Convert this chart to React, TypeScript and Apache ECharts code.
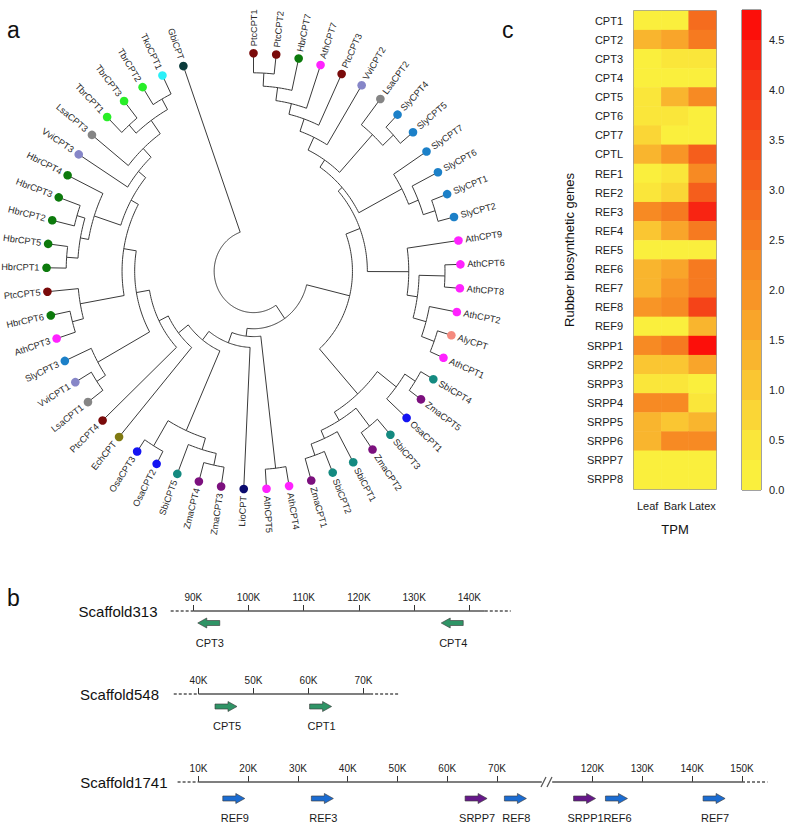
import React, { useEffect, useRef } from "react";
import * as echarts from "echarts";

const FONT = "'Liberation Sans', Arial, Helvetica, sans-serif";

// ---------------- panel a : tree (Newick, internal labels = node radius as fraction of tip radius)
const N_PP = "(PtcCPT1,PtcCPT2):0.91";
const N_V2 = `((((${N_PP},HbrCPT7):0.85,AthCPT7):0.79,PtcCPT3):0.74,VviCPT2):0.68`;
const TOP = `((${N_V2},(LsaCPT2,(SlyCPT4,SlyCPT5):0.92):0.85):0.615,(SlyCPT7,(SlyCPT6,(SlyCPT1,SlyCPT2):0.92):0.86):0.81):0.575`;
const ATH = "(AthCPT9,((AthCPT6,AthCPT8):0.925,(AthCPT2,(AlyCPT,AthCPT1):0.93):0.865):0.8):0.75";
const MONO = "(((SbiCPT4,ZmaCPT5):0.93,OsaCPT1):0.87,((SbiCPT3,ZmaCPT2):0.905,(SbiCPT1,(SbiCPT2,ZmaCPT1):0.895):0.84):0.8):0.755";
const CL_X = `((${TOP},${ATH}):0.55,${MONO}):0.478`;
const M2 = "(((ZmaCPT3,ZmaCPT4):0.91,SbiCPT5):0.855,(OsaCPT2,OsaCPT3):0.935):0.8";
const G1 = "((LsaCPT1,VviCPT1):0.91,SlyCPT3):0.86";
const G2 = "((AthCPT3,HbrCPT6):0.905,PtcCPT5):0.85";
const HBR = "(((HbrCPT1,HbrCPT5):0.905,(HbrCPT2,HbrCPT3):0.89):0.85,HbrCPT4):0.81";
const TBR = "((TbrCPT1,TbrCPT3):0.9,(TbrCPT2,TkoCPT1):0.905):0.85";
const N1 = `(${HBR},(VviCPT3,(LsaCPT3,${TBR}):0.775):0.72):0.675`;
const CL_V = `(LioCPT,(${M2},(EchCPT,(PtcCPT4,(${G1},(${G2},${N1}):0.635):0.574):0.51):0.46):0.4):0.35`;
const CL_W = `((AthCPT4,AthCPT5):0.91,${CL_V}):0.3`;
const TREE = `((${CL_X},${CL_W}):0.264,GbiCPT):0.19`;
const LEAF_STEP = 6.3; // degrees between tips

const SPECIES_COLORS: Record<string, string> = {
  Ptc: "#7a0b0b", Hbr: "#0c7a0c", Ath: "#ff22ff", Vvi: "#8686c8", Lsa: "#858585",
  Sly: "#1c80c8", Aly: "#f58a7e", Sbi: "#148a80", Zma: "#7c107e", Osa: "#1414f2",
  Lio: "#0a0a6e", Ech: "#807a12", Tbr: "#28ee28", Tko: "#2af0f8", Gbi: "#0b3b3b",
};

// ---------------- panel c : heatmap
const GENES = ["CPT1","CPT2","CPT3","CPT4","CPT5","CPT6","CPT7","CPTL","REF1","REF2","REF3","REF4","REF5","REF6","REF7","REF8","REF9","SRPP1","SRPP2","SRPP3","SRPP4","SRPP5","SRPP6","SRPP7","SRPP8"];
const TISSUES = ["Leaf", "Bark", "Latex"];
const LEAF  = [0.1, 1.3, 0.1, 0.1, 0.4, 0.4, 0.8, 1.3, 0.2, 0.4, 2.3, 0.9, 0.1, 1.3, 1.2, 2.0, 0.1, 2.3, 0.9, 0.3, 2.1, 1.2, 1.2, 0.1, 0.1];
const BARK  = [0.1, 1.6, 0.4, 0.2, 1.2, 0.4, 0.1, 1.8, 0.4, 0.8, 2.6, 1.7, 0.1, 1.7, 2.0, 2.3, 0.1, 2.6, 1.1, 0.3, 2.1, 0.9, 2.2, 0.1, 0.1];
const LATEX = [2.8, 2.6, 0.4, 0.2, 2.1, 0.1, 0.1, 3.1, 2.2, 3.0, 4.3, 2.5, 0.1, 2.5, 2.6, 3.6, 1.4, 4.7, 1.5, 0.1, 0.4, 1.4, 2.2, 0.1, 0.1];
const SCALE_MAX = 4.8;
const SCALE_STEP = 0.3;
const SCALE_TICKS = [0, 0.5, 1, 1.5, 2, 2.5, 3, 3.5, 4, 4.5];
const PALETTE = ["#faef3d","#fae63a","#fad636","#fac632","#f9b52e","#f9a52a","#f89526","#f78a23","#f67a20","#f56c1e","#f55e1c","#f5501a","#f54318","#f63516","#f82412","#fc0f0a"];

// ---------------- panel b : scaffolds
const S313_TICKS = [90, 100, 110, 120, 130, 140];
const S313_SPAN = [85.9, 90, 142.8, 147.5];
const S313_GENES = ["CPT3", "CPT4"];
const S313_POS = [92.8, 136.9];
const S313_DIR = [-1, -1];

const S548_TICKS = [40, 50, 60, 70];
const S548_SPAN = [35.5, 40, 71.2, 76.5];
const S548_GENES = ["CPT5", "CPT1"];
const S548_POS = [45.0, 62.2];
const S548_DIR = [1, 1];

const S1741A_TICKS = [10, 20, 30, 40, 50, 60, 70];
const S1741A_SPAN = [5.8, 10, 79.0, 79.0];
const S1741A_GENES = ["REF9", "REF3", "SRPP7", "REF8"];
const S1741A_POS = [17.1, 34.9, 65.8, 73.7];
const S1741A_DIR = [1, 1, 1, 1];

const S1741B_TICKS = [120, 130, 140, 150];
const S1741B_SPAN = [111.9, 111.9, 150, 155.1];
const S1741B_GENES = ["SRPP1", "REF6", "REF7"];
const S1741B_POS = [118.4, 124.8, 144.4];
const S1741B_DIR = [1, 1, 1];

const GENE_COLORS: Record<string, string> = { CPT: "#2f9466", REF: "#1b6cd2", SRPP: "#66188a" };

const ARROW_R = "path://M0,2.5L13,2.5L13,0L22,5L13,10L13,7.5L0,7.5Z";
const ARROW_L = "path://M22,2.5L9,2.5L9,0L0,5L9,10L9,7.5L22,7.5Z";

type TNode = { name?: string; r: number; children: TNode[] };

function parseNewick(src: string): TNode {
  const s = src.replace(/\s+/g, "");
  let i = 0;
  const node = (): TNode => {
    if (s[i] === "(") {
      i++;
      const children: TNode[] = [node()];
      while (s[i] === ",") { i++; children.push(node()); }
      i++;
      let r = 0;
      if (s[i] === ":") {
        i++;
        const j = i;
        while (i < s.length && /[0-9.]/.test(s[i])) i++;
        r = parseFloat(s.slice(j, i));
      }
      return { r, children };
    }
    const j = i;
    while (i < s.length && !/[,():]/.test(s[i])) i++;
    return { name: s.slice(j, i), r: 1, children: [] };
  };
  return node();
}

function layoutTree(root: TNode) {
  const rows: number[][] = [];
  const names: string[] = [];
  const walk = (n: TNode, pr: number): number => {
    if (!n.children.length) {
      const a = names.length * LEAF_STEP;
      names.push(n.name || "");
      rows.push([a, 1, pr, a, a, names.length - 1]);
      return a;
    }
    const angs = n.children.map((c) => walk(c, n.r));
    const a = angs.reduce((s, v) => s + v, 0) / angs.length;
    rows.push([a, n.r, pr, Math.min(...angs), Math.max(...angs), -1]);
    return a;
  };
  walk(root, root.r);
  return { rows, names };
}

function geneColor(g: string) {
  return g.startsWith("SRPP") ? GENE_COLORS.SRPP : g.startsWith("REF") ? GENE_COLORS.REF : GENE_COLORS.CPT;
}

function buildOption() {
  const { rows, names } = layoutTree(parseNewick(TREE));
  const LINE = "#3a3a3a";

  const renderTree = (_params: any, api: any) => {
    const ang = api.value(0) as number;
    const r = api.value(1) as number;
    const pr = api.value(2) as number;
    const a1 = api.value(3) as number;
    const a2 = api.value(4) as number;
    const li = api.value(5) as number;
    const P = (rad: number, deg: number) => {
      const t = (deg * Math.PI) / 180;
      return api.coord([rad * Math.sin(t), rad * Math.cos(t)]);
    };
    const children: any[] = [];
    if (pr < r) {
      children.push({ type: "polyline", shape: { points: [P(pr, ang), P(r, ang)] }, style: { stroke: LINE, lineWidth: 1, fill: "none" } });
    }
    if (li < 0) {
      const pts: number[][] = [];
      for (let a = a1; a < a2; a += 1) pts.push(P(r, a));
      pts.push(P(r, a2));
      children.push({ type: "polyline", shape: { points: pts }, style: { stroke: LINE, lineWidth: 1, fill: "none" } });
    } else {
      const name = names[li];
      const c = P(1, ang);
      const o = api.coord([0, 0]);
      let ux = c[0] - o[0];
      let uy = c[1] - o[1];
      const len = Math.hypot(ux, uy);
      ux /= len; uy /= len;
      children.push({ type: "circle", shape: { cx: c[0], cy: c[1], r: 4.3 }, style: { fill: SPECIES_COLORS[name.slice(0, 3)] || "#000" } });
      let rot = Math.atan2(-uy, ux);
      const left = ang >= 180;
      if (left) rot += Math.PI;
      children.push({
        type: "text",
        x: c[0] + ux * 7,
        y: c[1] + uy * 7,
        rotation: rot,
        style: { text: name, fill: "#2a2a2a", fontSize: 9.2, fontFamily: FONT, align: left ? "right" : "left", verticalAlign: "middle" },
      });
    }
    return { type: "group", children };
  };

  const heatData: number[][] = [];
  GENES.forEach((_g, i) => {
    [LEAF[i], BARK[i], LATEX[i]].forEach((v, t) => heatData.push([t, i, v]));
  });

  const pieces = PALETTE.map((c, k) => ({ gte: k * SCALE_STEP, lt: k === PALETTE.length - 1 ? 100 : (k + 1) * SCALE_STEP, color: c }));

  const scaffolds = [
    { ticks: S313_TICKS, span: S313_SPAN, genes: S313_GENES, pos: S313_POS, dir: S313_DIR, min: 85, max: 148, grid: { left: 165.7, top: 611, width: 347.8, height: 24 } },
    { ticks: S548_TICKS, span: S548_SPAN, genes: S548_GENES, pos: S548_POS, dir: S548_DIR, min: 35, max: 77, grid: { left: 171, top: 694, width: 231, height: 25 } },
    { ticks: S1741A_TICKS, span: S1741A_SPAN, genes: S1741A_GENES, pos: S1741A_POS, dir: S1741A_DIR, min: 5, max: 82, grid: { left: 173.6, top: 782, width: 383.1, height: 33 } },
    { ticks: S1741B_TICKS, span: S1741B_SPAN, genes: S1741B_GENES, pos: S1741B_POS, dir: S1741B_DIR, min: 110, max: 156, grid: { left: 542.7, top: 782, width: 229.2, height: 33 } },
  ];

  const grids: any[] = [
    { left: 5.1, top: 9.6, width: 496.8, height: 523.2, outerBoundsMode: "none" },
    { left: 634, top: 11, width: 82, height: 478, show: true, borderColor: "#7a7a7a", borderWidth: 1.5, outerBoundsMode: "none" },
    { left: 742, top: 10, width: 19, height: 480, show: true, borderColor: "#444", borderWidth: 1, outerBoundsMode: "none" },
    ...scaffolds.map((s) => ({ ...s.grid, outerBoundsMode: "none" })),
  ];

  const tickStyle = { color: "#333", width: 1 };
  const xAxes: any[] = [
    { type: "value", gridIndex: 0, min: -1.2, max: 1.2, show: false },
    { type: "category", gridIndex: 1, data: TISSUES, position: "bottom", offset: 2, axisLine: { show: false, onZero: false },
      axisTick: { length: 5, alignWithLabel: true, lineStyle: tickStyle }, axisLabel: { interval: 0, fontSize: 11, color: "#222", margin: 9, fontFamily: FONT }, splitLine: { show: false } },
    { type: "category", gridIndex: 1, data: TISSUES, position: "top", offset: 2, axisLine: { show: false, onZero: false },
      axisTick: { length: 5, alignWithLabel: true, lineStyle: tickStyle }, axisLabel: { show: false }, splitLine: { show: false } },
    { type: "category", gridIndex: 2, data: ["scale"], show: false },
    ...scaffolds.map((s, k) => ({
      type: "value", gridIndex: 3 + k, min: s.min, max: s.max, position: "top",
      axisLine: { show: false, onZero: false }, splitLine: { show: false },
      axisTick: { show: true, length: 6, customValues: s.ticks, lineStyle: { color: "#333", width: 1 } },
      axisLabel: { show: true, customValues: s.ticks, formatter: (v: number) => `${v}K`, fontSize: 10, color: "#222", margin: 9, fontFamily: FONT },
    })),
  ];
  const yAxes: any[] = [
    { type: "value", gridIndex: 0, min: -1.2, max: 1.2, show: false },
    { type: "category", gridIndex: 1, data: GENES, inverse: true, offset: 2, axisLine: { show: false, onZero: false },
      axisTick: { length: 5, alignWithLabel: true, lineStyle: tickStyle }, axisLabel: { interval: 0, fontSize: 11, color: "#222", margin: 9, fontFamily: FONT }, splitLine: { show: false } },
    { type: "category", gridIndex: 1, data: GENES, inverse: true, position: "right", offset: 2, axisLine: { show: false, onZero: false },
      axisTick: { length: 5, alignWithLabel: true, lineStyle: tickStyle }, axisLabel: { show: false }, splitLine: { show: false } },
    { type: "value", gridIndex: 2, min: 0, max: SCALE_MAX, interval: 0.5, position: "right", axisLine: { show: false, onZero: false }, splitLine: { show: false },
      axisTick: { length: 5, customValues: SCALE_TICKS, lineStyle: tickStyle },
      axisLabel: { customValues: SCALE_TICKS, formatter: (v: number) => v.toFixed(1), fontSize: 11, color: "#222", margin: 8, fontFamily: FONT } },
    ...scaffolds.map((_s, k) => ({ type: "value", gridIndex: 3 + k, min: 0, max: 1, show: false })),
  ];

  const series: any[] = [
    { type: "heatmap", xAxisIndex: 1, yAxisIndex: 1, data: heatData, silent: true, itemStyle: { borderWidth: 0 } },
    { type: "custom", coordinateSystem: "cartesian2d", xAxisIndex: 0, yAxisIndex: 0, data: rows, renderItem: renderTree, silent: true, clip: false },
    ...PALETTE.map((c) => ({
      type: "bar", xAxisIndex: 3, yAxisIndex: 3, stack: "scale", barWidth: "100%", data: [SCALE_STEP], silent: true,
      itemStyle: { color: c },
    })),
  ];

  scaffolds.forEach((s, k) => {
    const ax = 4 + k;
    const [d0, s0, s1, d1] = s.span;
    series.push({ type: "line", xAxisIndex: ax, yAxisIndex: ax, data: [[s0, 1], [s1, 1]], symbol: "none", clip: false, silent: true, lineStyle: { color: "#555", width: 1.5 } });
    if (d0 < s0) series.push({ type: "line", xAxisIndex: ax, yAxisIndex: ax, data: [[d0, 1], [s0, 1]], symbol: "none", clip: false, silent: true, lineStyle: { color: "#555", width: 1.3, type: [3, 2] } });
    if (d1 > s1) series.push({ type: "line", xAxisIndex: ax, yAxisIndex: ax, data: [[s1, 1], [d1, 1]], symbol: "none", clip: false, silent: true, lineStyle: { color: "#555", width: 1.3, type: [3, 2] } });
    series.push({
      type: "scatter", xAxisIndex: ax, yAxisIndex: ax, clip: false, silent: true, symbolSize: [22, 10],
      data: s.genes.map((g, j) => ({ name: g, value: [s.pos[j], 0.5], symbol: s.dir[j] < 0 ? ARROW_L : ARROW_R,
        itemStyle: { color: geneColor(g), borderColor: "#3c3c3c", borderWidth: 0.6, opacity: 1 } })),
      label: { show: true, position: "bottom", distance: 9, offset: [1, 0], formatter: (p: any) => p.name, fontSize: 11, color: "#1a1a1a", opacity: 1, fontFamily: FONT },
    });
  });

  const txt = (text: string, x: number, y: number, fontSize: number, align = "left", extra: any = {}) => ({
    type: "text", x, y, ...extra,
    style: { text, fontSize, fontFamily: FONT, fill: "#111", align, verticalAlign: "middle" },
  });

  const graphic: any[] = [
    txt("a", 7, 30, 23),
    txt("b", 7, 598, 23),
    txt("c", 502, 30, 23),
    txt("Rubber biosynthetic genes", 569, 250, 13, "center", { rotation: Math.PI / 2 }),
    txt("TPM", 675, 529, 13, "center"),
    txt("Scaffold313", 157.5, 611, 15, "right"),
    txt("Scaffold548", 159, 694.5, 15, "right"),
    txt("Scaffold1741", 167.5, 782, 15, "right"),
    { type: "line", shape: { x1: 541, y1: 787, x2: 546, y2: 777 }, style: { stroke: "#555", lineWidth: 1.2 } },
    { type: "line", shape: { x1: 547, y1: 787, x2: 552, y2: 777 }, style: { stroke: "#555", lineWidth: 1.2 } },
  ];

  return {
    animation: false,
    backgroundColor: "#ffffff",
    textStyle: { fontFamily: FONT },
    grid: grids,
    xAxis: xAxes,
    yAxis: yAxes,
    visualMap: { type: "piecewise", show: false, seriesIndex: 0, dimension: 2, pieces },
    series,
    graphic,
  };
}

export default function App() {
  const ref = useRef<HTMLDivElement>(null);
  useEffect(() => {
    if (!ref.current) return;
    const chart = echarts.init(ref.current, undefined, { renderer: "svg" });
    chart.setOption(buildOption() as any);
    return () => chart.dispose();
  }, []);
  return <div ref={ref} style={{ position: "absolute", left: 0, top: 0, width: 787, height: 825, background: "#fff" }} />;
}
